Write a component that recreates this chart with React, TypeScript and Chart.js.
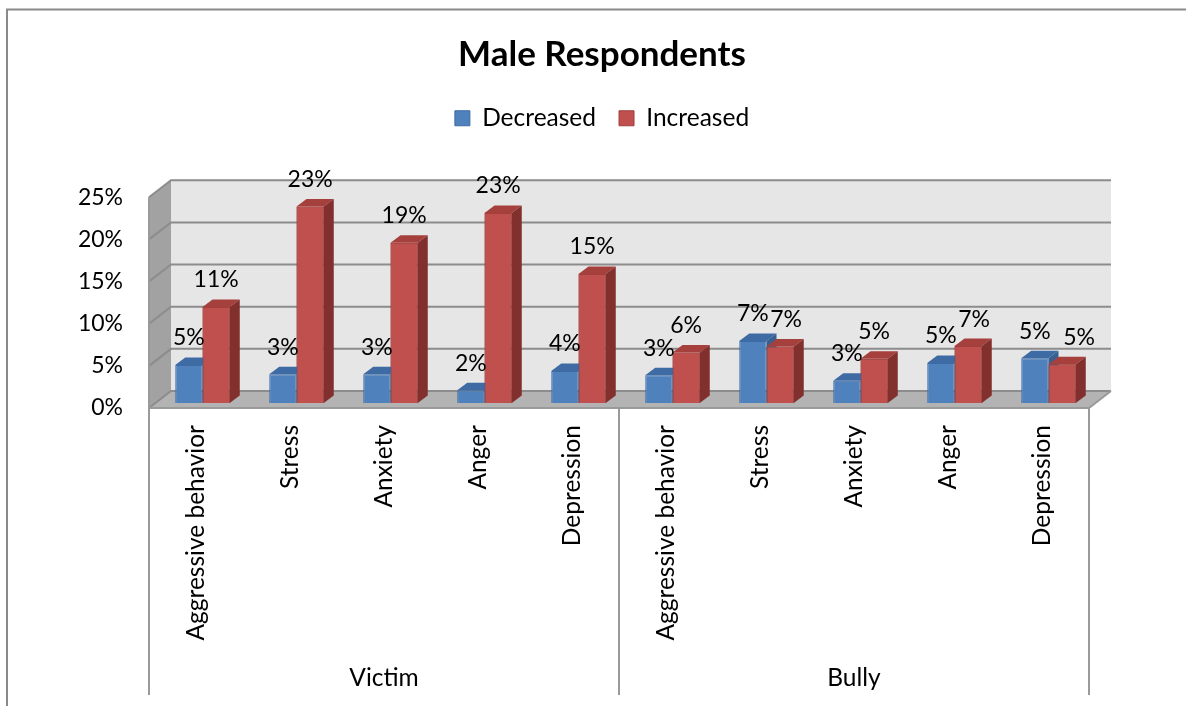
import React, { useEffect, useRef } from 'react';
import { Chart, registerables } from 'chart.js';

Chart.register(...registerables);

// ---- data ----
const categories = [
  'Aggressive behavior', 'Stress', 'Anxiety', 'Anger', 'Depression',
  'Aggressive behavior', 'Stress', 'Anxiety', 'Anger', 'Depression',
];
const groups = ['Victim', 'Bully'];
const decreased = [4.5, 3.4, 3.4, 1.5, 3.8, 3.3, 7.35, 2.65, 4.75, 5.3];
const increased = [11.4, 23.3, 19.0, 22.55, 15.3, 6.0, 6.7, 5.25, 6.75, 4.6];
const decreasedLabels = ['5%', '3%', '3%', '2%', '4%', '3%', '7%', '3%', '5%', '5%'];
const increasedLabels = ['11%', '23%', '19%', '23%', '15%', '6%', '7%', '5%', '7%', '5%'];
const yTicks = [0, 5, 10, 15, 20, 25];
const seriesNames = ['Decreased', 'Increased'];
const titleText = 'Male Respondents';

// ---- style ----
const W = 1204;
const H = 720;
const FONT = 'Lato';
const TEXT_SIZE = 24.5;
const NUM_SIZE = 23;
const DX = 22; // wall depth
const DY = 17;
const SHIFT_X = 6.5; // bar plane offset
const SHIFT_Y = 5;
const BDX = 10; // bar depth
const BDY = 7.5;
// label collision nudges (px) applied to the second series' labels
const LABEL_NUDGE = [[0, 0, 0, 0, 0, 0, 0, 0, 0, 0], [0, 0, 0, 0, 0, 0, 6, 0, 6, 17]];

const blue = { front: '#4F81BD', border: '#3D6BA3', top: '#3E6BA3', side: '#36608F' };
const red = { front: '#C0504D', border: '#A03F3C', top: '#A5403D', side: '#82302E' };

function poly(ctx: CanvasRenderingContext2D, pts: number[][], fill: string) {
  ctx.beginPath();
  ctx.moveTo(pts[0][0], pts[0][1]);
  for (let i = 1; i < pts.length; i++) ctx.lineTo(pts[i][0], pts[i][1]);
  ctx.closePath();
  ctx.fillStyle = fill;
  ctx.fill();
}

function draw3D(ctx: CanvasRenderingContext2D, el: any, c: { top: string; side: string }) {
  const p = el.getProps(['x', 'y', 'base', 'width'], true);
  const x0 = p.x - p.width / 2;
  const x1 = p.x + p.width / 2;
  const yt = Math.min(p.y, p.base);
  const yb = Math.max(p.y, p.base);
  poly(ctx, [[x0, yt], [x1, yt], [x1 + BDX, yt - BDY], [x0 + BDX, yt - BDY]], c.top);
  poly(ctx, [[x1, yt], [x1 + BDX, yt - BDY], [x1 + BDX, yb - BDY], [x1, yb]], c.side);
}

const plugin3d = {
  id: 'excel3d',
  beforeDraw(chart: any) {
    const ctx: CanvasRenderingContext2D = chart.ctx;
    ctx.save();
    ctx.fillStyle = '#ffffff';
    ctx.fillRect(0, 0, chart.width, chart.height);
    ctx.strokeStyle = '#8a8a8a';
    ctx.lineWidth = 2;
    ctx.beginPath();
    ctx.moveTo(7, H + 10);
    ctx.lineTo(7, 9.5);
    ctx.lineTo(W + 10, 9.5);
    ctx.stroke();
    ctx.restore();
  },
  beforeDatasetsDraw(chart: any) {
    const ctx: CanvasRenderingContext2D = chart.ctx;
    const { left, right, top, bottom } = chart.chartArea;
    const y = chart.scales.y;
    ctx.save();
    poly(ctx, [[left, top], [left + DX, top - DY], [left + DX, bottom - DY], [left, bottom]], '#a2a2a2');
    poly(ctx, [[left + DX, top - DY], [right + DX, top - DY], [right + DX, bottom - DY], [left + DX, bottom - DY]], '#e6e6e6');
    poly(ctx, [[left, bottom], [left + DX, bottom - DY], [right + DX, bottom - DY], [right, bottom]], '#b3b3b3');
    ctx.strokeStyle = '#8c8c8c';
    ctx.lineWidth = 2;
    yTicks.forEach((v) => {
      const py = y.getPixelForValue(v);
      ctx.beginPath();
      ctx.moveTo(left, py);
      ctx.lineTo(left + DX, py - DY);
      ctx.lineTo(right + DX, py - DY);
      ctx.stroke();
    });
    ctx.strokeStyle = '#9a9a9a';
    ctx.beginPath();
    ctx.moveTo(left, top);
    ctx.lineTo(left, bottom);
    ctx.lineTo(right, bottom);
    ctx.lineTo(right + DX, bottom - DY);
    ctx.stroke();
    ctx.restore();

    ctx.save();
    ctx.translate(SHIFT_X, -SHIFT_Y);
  },
  afterDatasetsDraw(chart: any) {
    const ctx: CanvasRenderingContext2D = chart.ctx;
    const m0 = chart.getDatasetMeta(0);
    const m1 = chart.getDatasetMeta(1);
    for (let i = 0; i < m0.data.length; i++) {
      draw3D(ctx, m0.data[i], blue);
      m1.data[i].draw(ctx);
      draw3D(ctx, m1.data[i], red);
    }
    ctx.restore();

    ctx.save();
    ctx.font = `${NUM_SIZE}px ${FONT}`;
    ctx.fillStyle = '#000';
    ctx.textAlign = 'center';
    ctx.textBaseline = 'middle';
    const lbls = [decreasedLabels, increasedLabels];
    [m0, m1].forEach((m: any, d: number) => {
      m.data.forEach((el: any, i: number) => {
        const p = el.getProps(['x', 'y'], true);
        ctx.fillText(lbls[d][i], p.x + SHIFT_X + LABEL_NUDGE[d][i], p.y - SHIFT_Y - 27);
      });
    });

    const x = chart.scales.x;
    const { left, right, bottom } = chart.chartArea;
    const n = categories.length;
    const per = n / groups.length;
    const step = (right - left) / n;
    ctx.strokeStyle = '#9a9a9a';
    ctx.lineWidth = 2;
    const bounds: number[] = [];
    for (let g = 0; g <= groups.length; g++) {
      const px = g * per < n ? x.getPixelForValue(g * per) - step / 2 : x.getPixelForValue(n - 1) + step / 2;
      bounds.push(px);
      ctx.beginPath();
      ctx.moveTo(px, bottom);
      ctx.lineTo(px, 695);
      ctx.stroke();
    }
    ctx.font = `${TEXT_SIZE}px ${FONT}`;
    groups.forEach((gname, g) => {
      ctx.fillText(gname, (bounds[g] + bounds[g + 1]) / 2, 678);
    });
    ctx.restore();
  },
};

export default function App() {
  const ref = useRef<HTMLCanvasElement>(null);
  useEffect(() => {
    const canvas = ref.current;
    if (!canvas) return;
    Chart.defaults.font.family = FONT;
    Chart.defaults.color = '#000';
    const chart = new Chart(canvas, {
      type: 'bar',
      data: {
        labels: categories,
        datasets: [
          {
            label: seriesNames[0],
            data: decreased,
            backgroundColor: blue.front,
            borderColor: blue.border,
            borderWidth: 1,
            xAxisID: 'x',
            yAxisID: 'y',
          },
          {
            label: seriesNames[1],
            data: increased,
            backgroundColor: red.front,
            borderColor: red.border,
            borderWidth: 1,
            xAxisID: 'x',
            yAxisID: 'y',
          },
        ],
      },
      options: {
        responsive: false,
        animation: false,
        events: [],
        layout: { padding: 0 },
        datasets: { bar: { categoryPercentage: 0.58, barPercentage: 1.0, clip: false as any } },
        plugins: {
          title: {
            display: true,
            text: titleText,
            color: '#000',
            font: { family: FONT, size: 35, weight: 'bold' },
            padding: { top: 34, bottom: 7 },
          },
          legend: {
            display: true,
            position: 'top',
            labels: {
              color: '#000',
              font: { family: FONT, size: TEXT_SIZE },
              boxWidth: 15,
              boxHeight: 15,
              padding: 23,
            },
          },
          tooltip: { enabled: false },
        },
        scales: {
          x: {
            type: 'category',
            position: 'bottom',
            grid: { display: false, drawTicks: false },
            border: { display: false },
            ticks: {
              autoSkip: false,
              minRotation: 90,
              maxRotation: 90,
              padding: 17,
              color: '#000',
              font: { family: FONT, size: TEXT_SIZE },
            },
            afterFit: (s: any) => {
              s.height = H - 408;
            },
          },
          x2: {
            type: 'category',
            position: 'top',
            display: true,
            grid: { display: false, drawTicks: false },
            border: { display: false },
            ticks: { display: false },
            afterFit: (s: any) => {
              s.height = 56.75;
            },
          },
          y: {
            type: 'linear',
            position: 'left',
            min: 0,
            max: 25,
            grid: { display: false, drawTicks: false },
            border: { display: false },
            afterBuildTicks: (s: any) => {
              s.ticks = yTicks.map((v) => ({ value: v }));
            },
            ticks: {
              padding: 26,
              color: '#000',
              font: { family: FONT, size: NUM_SIZE },
              callback: (v: any) => `${v}%`,
            },
            afterFit: (s: any) => {
              s.width = 149;
            },
          },
          y2: {
            type: 'linear',
            position: 'right',
            display: true,
            grid: { display: false, drawTicks: false },
            border: { display: false },
            ticks: { display: false },
            afterFit: (s: any) => {
              s.width = W - 1089;
            },
          },
        },
      } as any,
      plugins: [plugin3d],
    });
    return () => chart.destroy();
  }, []);
  return (
    <div style={{ position: 'fixed', left: 0, top: 0, width: W, height: H }}>
      <canvas ref={ref} width={W} height={H} style={{ display: 'block', width: W, height: H }} />
    </div>
  );
}
